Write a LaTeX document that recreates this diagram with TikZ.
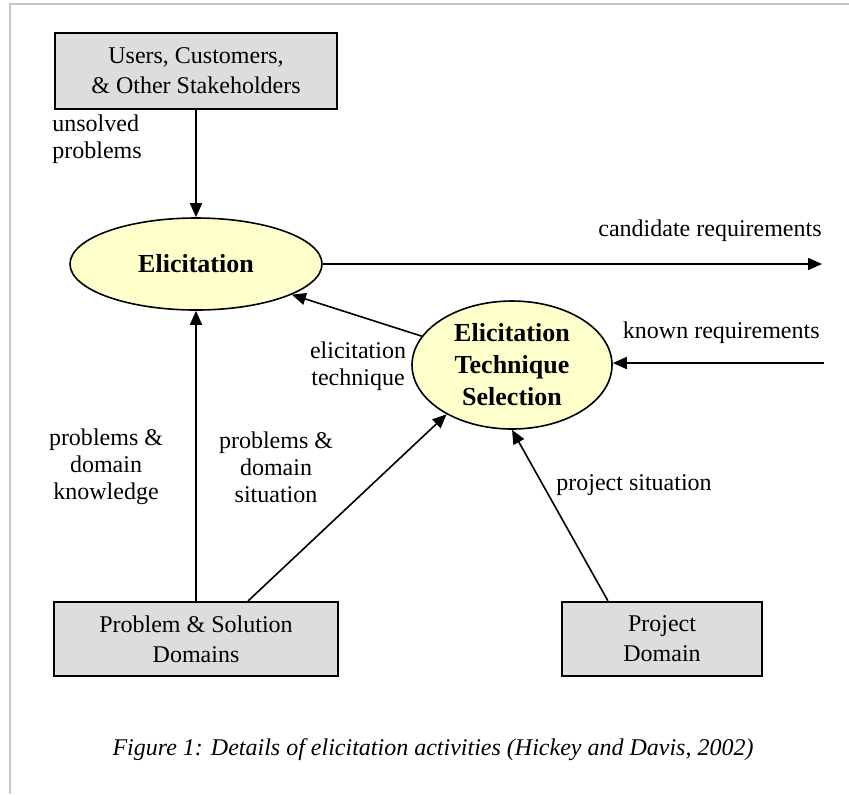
\documentclass[tikz,border=0pt]{standalone}
\usepackage{fontspec}
\setmainfont{Liberation Serif}
\usetikzlibrary{shapes.geometric,arrows.meta,calc}
\definecolor{boxgray}{HTML}{DDDDDD}
\definecolor{ellyellow}{HTML}{FFFFCC}
\definecolor{framegray}{HTML}{C8C8C8}
\tikzset{
  x=0.5pt, y=-0.5pt,
  txt/.style={font=\fontsize{12}{13.5}\selectfont, align=center, inner sep=0pt},
  srcbox/.style={draw=black, line width=1pt, fill=boxgray, inner sep=0pt,
    font=\fontsize{12}{15}\selectfont, align=center},
  proc/.style={ellipse, draw=black, line width=0.8pt, fill=ellyellow, inner sep=0pt,
    font=\bfseries\fontsize{13}{16}\selectfont, align=center},
  flow/.style={line width=0.8pt, -{Triangle[length=7pt,width=6pt]}}
}
\begin{document}
\begin{tikzpicture}
\useasboundingbox (0,0) rectangle (849,794);
\draw[framegray, line width=1pt] (10,794) -- (10,4) -- (849,4);

\node[srcbox, minimum width=141pt, minimum height=38pt] (users) at (196,71)
  {Users, Customers,\\ \& Other Stakeholders};
\node[srcbox, minimum width=142pt, minimum height=37pt] (psd) at (196,639)
  {Problem \& Solution\\ Domains};
\node[srcbox, minimum width=100pt, minimum height=37pt] (proj) at (662,639)
  {Project\\ Domain};

\node[proc, minimum width=126pt, minimum height=46pt] (elic) at (196,264) {Elicitation};
\node[proc, minimum width=100pt, minimum height=64pt] (ets) at (512,365)
  {Elicitation\\ Technique\\ Selection};

\coordinate (candend) at (822,264);
\coordinate (knownstart) at (824,363);

\draw[flow] (users) -- (elic);
\draw[flow] (elic.east) -- (candend);
\draw[flow] (knownstart) -- (knownstart -| ets.east);
\draw[flow] (ets) -- (elic);
\draw[flow] (psd.north) -- (elic.south);
\draw[flow] ($(psd.north)+(52,0)$) -- (ets.217);
\draw[flow] ($(proj.north)+(-54,0)$) -- (ets.south);

\node[txt, align=left, anchor=west] (lunsolved) at (52,139) {unsolved\\ problems};
\node[txt, anchor=east] (lcand) at (822,231) {candidate requirements};
\node[txt, anchor=east] (lknown) at (820,333) {known requirements};
\node[txt] (ltech) at (358,366) {elicitation\\ technique};
\node[txt] (lknow) at (106,467) {problems \&\\ domain\\ knowledge};
\node[txt] (lsit) at (276,467) {problems \&\\ domain\\ situation};
\node[txt, anchor=west] (lproj) at (556,485) {project situation};

\node[txt, font=\itshape\fontsize{12}{13.5}\selectfont] (caption) at (433,750)
  {Figure 1: Details of elicitation activities (Hickey and Davis, 2002)};
\end{tikzpicture}
\end{document}
